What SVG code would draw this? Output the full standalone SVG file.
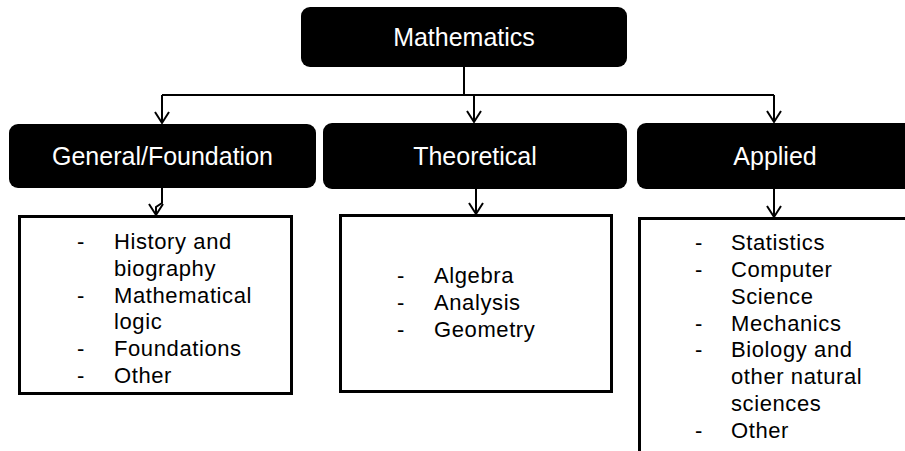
<svg xmlns="http://www.w3.org/2000/svg" width="905" height="451" viewBox="0 0 905 451">
<style>
.hdr{fill:#000}
.hdrt{fill:#fff;font-family:"Liberation Sans",Arial,sans-serif;font-size:25px;text-anchor:middle}
.box{fill:#fff;stroke:#000;stroke-width:3}
.lt{fill:#000;font-family:"Liberation Sans",Arial,sans-serif;font-size:22px;letter-spacing:0.6px}
.cn{fill:none;stroke:#000;stroke-width:2}
</style>
<defs>
<marker id="arr" viewBox="-13 -9 15 18" refX="0" refY="0" markerWidth="15" markerHeight="18" markerUnits="userSpaceOnUse" orient="auto" overflow="visible">
<path d="M-11,-7 L0,0 L-11,7" fill="none" stroke="#000" stroke-width="2"/>
</marker>
</defs>
<g id="connectors">
<path class="cn" d="M464,67 V95"/>
<path class="cn" d="M162,95 H774"/>
<path class="cn" d="M162,95 V123" marker-end="url(#arr)"/>
<path class="cn" d="M474,95 V122" marker-end="url(#arr)"/>
<path class="cn" d="M774,95 V122" marker-end="url(#arr)"/>
<path class="cn" d="M162,188 V203 L156,207 V215" marker-end="url(#arr)"/>
<path class="cn" d="M476,189 V214" marker-end="url(#arr)"/>
<path class="cn" d="M774,189 V217" marker-end="url(#arr)"/>
</g>
<g id="mathematics">
<rect class="hdr" x="301" y="7" width="326" height="60" rx="9"/>
<text class="hdrt" x="464" y="46">Mathematics</text>
</g>
<g id="general">
<rect class="hdr" x="9" y="124" width="307" height="64" rx="9"/>
<text class="hdrt" x="162.5" y="165">General/Foundation</text>
</g>
<g id="theoretical">
<rect class="hdr" x="323" y="123" width="304" height="66" rx="9"/>
<text class="hdrt" x="475" y="165">Theoretical</text>
</g>
<g id="applied">
<rect class="hdr" x="637" y="123" width="276" height="66" rx="9"/>
<text class="hdrt" x="775" y="165">Applied</text>
</g>
<g id="general-list">
<rect class="box" x="19.5" y="216.5" width="272" height="177"/>
<text class="lt" x="77" y="249">-</text><text class="lt" x="114" y="249">History and</text>
<text class="lt" x="114" y="276">biography</text>
<text class="lt" x="77" y="303">-</text><text class="lt" x="114" y="303">Mathematical</text>
<text class="lt" x="114" y="329">logic</text>
<text class="lt" x="77" y="356">-</text><text class="lt" x="114" y="356">Foundations</text>
<text class="lt" x="77" y="383">-</text><text class="lt" x="114" y="383">Other</text>
</g>
<g id="theoretical-list">
<rect class="box" x="340.5" y="215.5" width="271" height="176"/>
<text class="lt" x="397" y="283">-</text><text class="lt" x="434" y="283">Algebra</text>
<text class="lt" x="397" y="310">-</text><text class="lt" x="434" y="310">Analysis</text>
<text class="lt" x="397" y="337">-</text><text class="lt" x="434" y="337">Geometry</text>
</g>
<g id="applied-list">
<rect class="box" x="639.5" y="218.5" width="300" height="300"/>
<text class="lt" x="695" y="250">-</text><text class="lt" x="731" y="250">Statistics</text>
<text class="lt" x="695" y="277">-</text><text class="lt" x="731" y="277">Computer</text>
<text class="lt" x="731" y="304">Science</text>
<text class="lt" x="695" y="331">-</text><text class="lt" x="731" y="331">Mechanics</text>
<text class="lt" x="695" y="357">-</text><text class="lt" x="731" y="357">Biology and</text>
<text class="lt" x="731" y="384">other natural</text>
<text class="lt" x="731" y="411">sciences</text>
<text class="lt" x="695" y="438">-</text><text class="lt" x="731" y="438">Other</text>
</g>
</svg>
